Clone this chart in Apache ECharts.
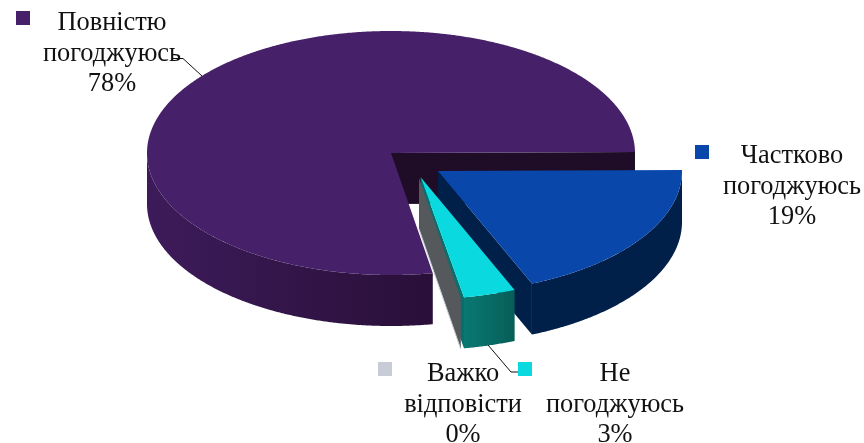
<!DOCTYPE html>
<html><head><meta charset="utf-8">
<style>html,body{margin:0;padding:0;background:#fff}#c{width:864px;height:443px}</style>
<script src="https://cdn.jsdelivr.net/npm/echarts@6/dist/echarts.min.js"></script>
</head><body><div id="c"></div>
<script>
// Data
const categories = ['Повністю\nпогоджуюсь', 'Частково\nпогоджуюсь', 'Не\nпогоджуюсь', 'Важко\nвідповісти'];
const shares = [77.6, 18.85, 3.45, 0.1];

// Styles
const topColors = ['#47206a', '#0a47ab', '#0adadf', '#c8ccd6'];
const rimColors = [['#3d1b5a', '#290f38'], ['#002049', '#002049'], ['#0a7872', '#075e58'], ['#55595c', '#55595c']];
const cutColors = ['#1f0d28', '#002049', '#0a6e6c', '#55595c'];

// Layout of the tilted pie
const CX = 391, CY = 153, RX = 244, RY = 122, DEPTH = 51, FIRST_ANGLE = 170.14;
const explode = [[0, 0], [47, 18], [29.7, 24.3], [28, 25]];
const labelCenters = [[112, 54], [792, 187], [615, 405], [463, 405]];
const markerCorners = [[16, 11], [695, 145], [518, 362], [378, 362]];
const leaders = [
  [[172, 58.5], [183, 58.5], [202, 76]],
  null,
  [[488, 345], [511, 372], [518, 372]],
  null
];

function pt(a, ox, oy, drop) {
  const r = a * Math.PI / 180;
  return [ox + RX * Math.sin(r), oy - RY * Math.cos(r) + (drop || 0)];
}
function arc(a0, a1, ox, oy, drop) {
  const out = [], n = Math.max(2, Math.ceil(Math.abs(a1 - a0) * 3));
  for (let i = 0; i <= n; i++) out.push(pt(a0 + (a1 - a0) * i / n, ox, oy, drop));
  return out;
}
const hGrad = c => new echarts.graphic.LinearGradient(0, 0, 1, 0, [{offset: 0, color: c[0]}, {offset: 1, color: c[1]}]);

const total = shares.reduce((a, b) => a + b, 0);
const starts = [];
shares.reduce((acc, v, i) => { starts[i] = acc; return acc + v / total * 360; }, FIRST_ANGLE);

function renderItem(params, api) {
  const i = params.dataIndex;
  const value = api.value(0);
  let a0 = starts[i];
  if (a0 >= 360) a0 -= 360;
  const a1 = a0 + value / total * 360;
  const ox = CX + explode[i][0], oy = CY + explode[i][1];
  const kids = [];
  // Cut wall along the trailing radius
  const e = pt(a1, ox, oy);
  const cutPts = [[ox, oy], e, [e[0], e[1] + DEPTH], [ox, oy + DEPTH]];
  kids.push({type: 'polygon', shape: {points: cutPts}, style: {fill: cutColors[i]}});
  if (value < 0.5) {
    // slice too thin to show a top face: only a pale edge under its cut wall
    kids.push({type: 'polyline', shape: {points: [[ox, oy + DEPTH], [e[0], e[1] + DEPTH]]},
      style: {stroke: topColors[i], lineWidth: 1, fill: 'none'}});
  }
  // Outer rim: only the front half of the ellipse is seen
  const r0 = Math.max(a0, 90), r1 = Math.min(a1, 270);
  if (r1 > r0 && value >= 0.5) {
    const up = arc(r0, r1, ox, oy, 0), down = arc(r1, r0, ox, oy, DEPTH);
    kids.push({type: 'polygon', shape: {points: up.concat(down)}, style: {fill: hGrad(rimColors[i])}});
  }
  // Top face
  if (value >= 0.5) {
    kids.push({type: 'polygon', shape: {points: [[ox, oy]].concat(arc(a0, a1, ox, oy, 0))}, style: {fill: topColors[i]}});
  }
  return {type: 'group', children: kids};
}

function renderLabel(params, api) {
  const i = params.dataIndex;
  const kids = [];
  if (leaders[i]) kids.push({type: 'polyline', shape: {points: leaders[i]}, style: {stroke: '#111', lineWidth: 1, fill: 'none'}});
  kids.push({type: 'rect', shape: {x: markerCorners[i][0], y: markerCorners[i][1], width: 14, height: 14}, style: {fill: topColors[i]}});
  kids.push({type: 'text', x: labelCenters[i][0], y: labelCenters[i][1], style: {
    text: categories[i] + '\n' + Math.round(api.value(0)) + '%',
    font: '26.4px "Liberation Serif"', lineHeight: 30.5, fill: '#111', align: 'center', verticalAlign: 'middle'
  }});
  return {type: 'group', children: kids};
}

const chart = echarts.init(document.getElementById('c'), null, {renderer: 'canvas'});
chart.setOption({
  animation: false,
  backgroundColor: '#fff',
  series: [
    {type: 'custom', coordinateSystem: 'none', renderItem, data: shares.map(v => [v]), silent: true, z: 2},
    {type: 'custom', coordinateSystem: 'none', renderItem: renderLabel, data: shares.map(v => [v]), silent: true, z: 3}
  ]
});
</script></body></html>
